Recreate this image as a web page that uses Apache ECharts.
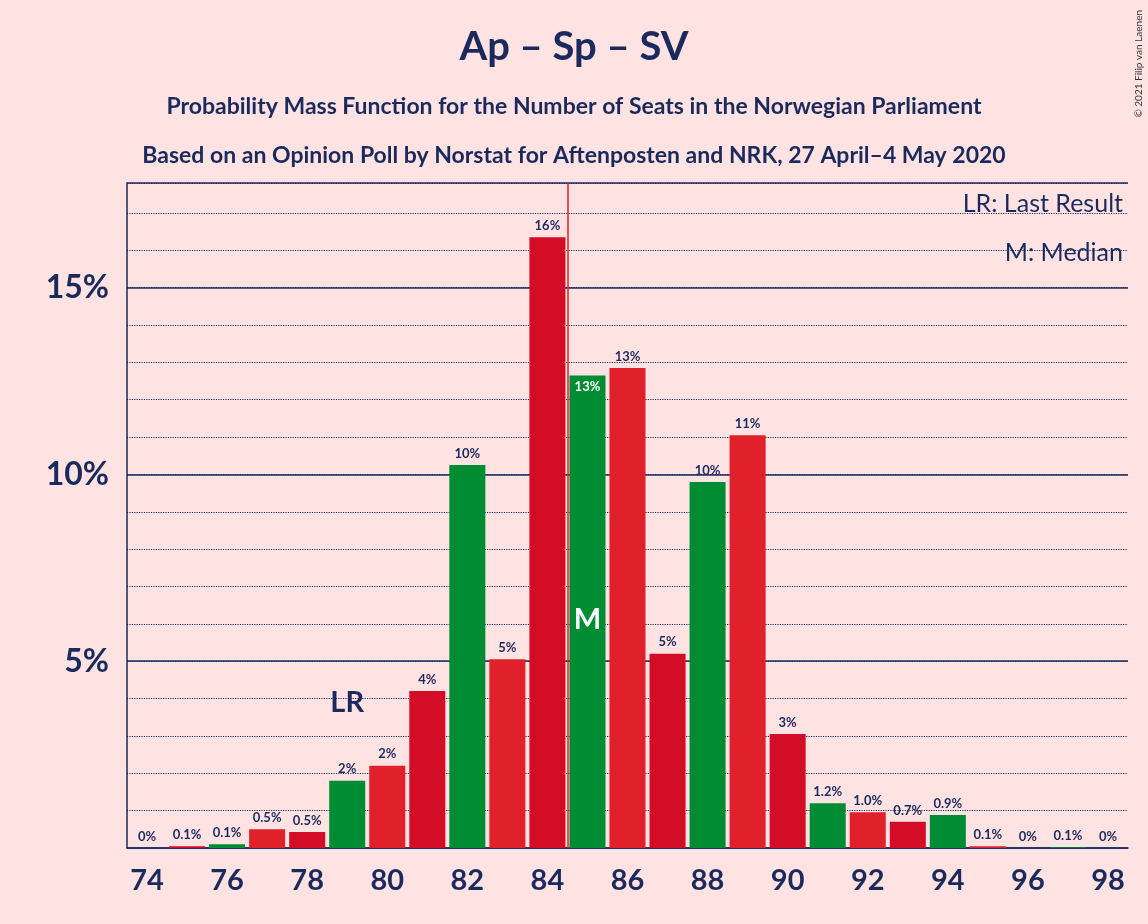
<!DOCTYPE html>
<html><head><meta charset="utf-8">
<script src="https://cdn.jsdelivr.net/npm/echarts@6/dist/echarts.min.js"></script>
<style>html,body{margin:0;padding:0;background:#ffe3e3}#c{width:1148px;height:924px}</style>
</head><body><div id="c"></div>
<script>
var seats = [74,75,76,77,78,79,80,81,82,83,84,85,86,87,88,89,90,91,92,93,94,95,96,97,98];
var probs = [0,0.05,0.1,0.5,0.43,1.8,2.2,4.2,10.25,5.05,16.35,12.65,12.85,5.2,9.8,11.05,3.05,1.2,0.96,0.7,0.88,0.05,0,0.02,0];
var labels = ['0%','0.1%','0.1%','0.5%','0.5%','2%','2%','4%','10%','5%','16%','13%','13%','5%','10%','11%','3%','1.2%','1.0%','0.7%','0.9%','0.1%','0%','0.1%','0%'];
var lastResult = 79;
var median = 85;

var navy = '#1b2a5c';
var colors = ['#008c33', '#e0202a', '#d40d27'];
var chart = echarts.init(document.getElementById('c'));
var data = probs.map(function (v, i) {
    var s = seats[i];
    var d = { value: v, itemStyle: { color: colors[(s - 76 + 300) % 3] } };
    if (s === median) {
        d.label = { show: true, position: 'insideTop', formatter: labels[i], color: '#ffffff', fontSize: 13, fontWeight: 'bold' };
    }
    return d;
});
chart.setOption({
    backgroundColor: '#ffe3e3',
    animation: false,
    title: [
        { text: 'Ap – Sp – SV', left: 'center', top: 22, textStyle: { fontSize: 40, fontWeight: 'bold', color: navy, fontFamily: 'Lato' } },
        { text: 'Probability Mass Function for the Number of Seats in the Norwegian Parliament', left: 'center', top: 90, textStyle: { fontSize: 23, fontWeight: 'bold', color: navy, fontFamily: 'Lato' } },
        { text: 'Based on an Opinion Poll by Norstat for Aftenposten and NRK, 27 April–4 May 2020', left: 'center', top: 139, textStyle: { fontSize: 23, fontWeight: 'bold', color: navy, fontFamily: 'Lato' } },
        { text: 'LR: Last Result', right: 20, top: 186, textStyle: { fontSize: 25, fontWeight: 'normal', color: navy, fontFamily: 'Lato' } },
        { text: 'M: Median', right: 20, top: 235, textStyle: { fontSize: 25, fontWeight: 'normal', color: navy, fontFamily: 'Lato' } }
    ],
    graphic: [
        { type: 'text', right: 4, top: 10, rotation: Math.PI / 2, style: { text: '© 2021 Filip van Laenen', fontSize: 10, fill: '#333', fontFamily: 'Lato' }, left: 1134 }
    ],
    grid: { left: 127, right: 20, top: 183, bottom: 76 },
    xAxis: [{
        type: 'category', data: seats,
        axisLine: { lineStyle: { color: navy, width: 1.5 } }, axisTick: { show: false },
        axisLabel: { interval: 1, fontSize: 29, fontWeight: 'bold', color: navy, margin: 18, fontFamily: 'Lato' }
    }, {
        type: 'value', min: 73.5, max: 98.5, show: false
    }],
    yAxis: [{
        type: 'value', min: 0, max: 17.8, interval: 1,
        axisLine: { show: true, lineStyle: { color: navy, width: 1.5 } }, axisTick: { show: false },
        axisLabel: { fontSize: 32, fontWeight: 'bold', color: navy, margin: 18, fontFamily: 'Lato',
            formatter: function (v) { return (v > 0 && v % 5 === 0) ? v + '%' : ''; } },
        splitLine: { lineStyle: { color: navy, type: 'dotted', width: 1.2 } }
    }, {
        type: 'value', min: 0, max: 17.8, interval: 5, position: 'left',
        axisLine: { show: false }, axisLabel: { show: false }, axisTick: { show: false },
        splitLine: { lineStyle: { color: navy, type: 'solid', width: 1.5 } }
    }],
    series: [{
        type: 'bar', data: data, barCategoryGap: '10%',
        label: { show: true, position: 'top', distance: 5, fontSize: 13, fontWeight: 'bold', color: navy, fontFamily: 'Lato',
            formatter: function (p) { return labels[p.dataIndex]; } },
        markPoint: {
            symbol: 'rect', symbolSize: 1, itemStyle: { color: 'transparent' },
            data: [
                { coord: [String(lastResult), 3.9], label: { show: true, formatter: 'LR', fontSize: 29, fontWeight: 'bold', color: navy, fontFamily: 'Lato' } },
                { coord: [String(median), 6.1], label: { show: true, formatter: 'M', fontSize: 29, fontWeight: 'bold', color: '#ffffff', fontFamily: 'Lato' } }
            ]
        }
    }, {
        type: 'line', xAxisIndex: 1, data: [],
        markLine: { symbol: 'none', silent: true, label: { show: false },
            lineStyle: { color: '#e0202a', type: 'solid', width: 1.5 },
            data: [{ xAxis: median - 0.5 }] }
    }]
});
</script></body></html>
